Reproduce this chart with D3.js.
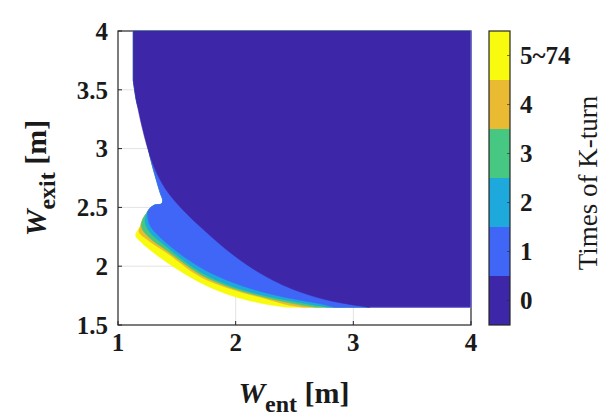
<!DOCTYPE html>
<html><head><meta charset="utf-8">
<script src="https://cdn.jsdelivr.net/npm/d3@7/dist/d3.min.js"></script>
<style>
body{margin:0;background:#fff}
svg text{font-family:"Liberation Serif","Times New Roman",Times,serif;fill:#1a1a1a}
</style></head>
<body><svg id="c" width="611" height="420" font-family="Liberation Serif, Times New Roman, serif"></svg>
<script>
// ---- data ----
const xTicks = [1, 2, 3, 4];
const yTicks = [1.5, 2, 2.5, 3, 3.5, 4];
const yTickLabels = ["1.5", "2", "2.5", "3", "3.5", "4"];
const levels = [0, 1, 2, 3, 4, 5];
const levelLabels = ["0", "1", "2", "3", "4", "5~74"];
const levelColors = ["#3e26a8", "#4066f8", "#1ea9dc", "#47c882", "#e9ba32", "#f9fb0e"];

// shared upper-left boundary of the coloured (K-turn >= 1) region: [W_ent, W_exit]
const sharedEdge = [[1.13,3.58],[1.16,3.39],[1.19,3.30],[1.24,3.08],[1.28,2.90],[1.33,2.72],
  [1.36,2.62],[1.38,2.56],[1.37,2.53],[1.31,2.52],[1.27,2.49],[1.25,2.46]];
// lower boundary of each nested region (level >= k), following the shared edge
const yellowLower = [[1.21,2.40],[1.19,2.34],[1.17,2.31],[1.15,2.26],[1.19,2.21],[1.27,2.14],
  [1.42,2.03],[1.70,1.86],[1.98,1.745],[2.27,1.675],[2.45,1.65]];
const orangeLower = [[1.21,2.40],[1.19,2.34],[1.18,2.29],[1.27,2.21],[1.42,2.11],[1.70,1.91],
  [1.98,1.80],[2.27,1.72],[2.45,1.67],[2.58,1.65]];
const greenLower = [[1.21,2.40],[1.20,2.33],[1.27,2.24],[1.42,2.13],[1.70,1.93],[1.98,1.81],
  [2.27,1.73],[2.50,1.68],[2.68,1.65]];
const cyanLower = [[1.23,2.38],[1.27,2.29],[1.42,2.16],[1.70,1.95],[1.98,1.825],[2.27,1.745],
  [2.55,1.69],[2.79,1.65]];
const blueLower = [[1.25,2.46],[1.27,2.35],[1.42,2.19],[1.70,1.99],[1.98,1.86],[2.27,1.77],
  [2.55,1.71],[2.72,1.68],[2.84,1.65]];
// boundary of the zero-K-turn region
const darkEdge = [[1.13,3.58],[1.16,3.39],[1.21,3.16],[1.25,3.01],[1.30,2.86],[1.36,2.73],[1.43,2.62],
  [1.55,2.48],[1.70,2.335],[1.84,2.21],[1.98,2.095],[2.12,1.995],[2.27,1.905],[2.40,1.84],[2.55,1.78],
  [2.69,1.735],[2.83,1.70],[2.97,1.675],[3.14,1.65]];
const domainTopLeft = [[1.13,4.0]];
const domainCorner = [[4.0,1.65],[4.0,4.0],[1.13,4.0]];

// ---- layout ----
const svg = d3.select("#c");
const x = d3.scaleLinear().domain([1, 4]).range([118, 471]);
const y = d3.scaleLinear().domain([1.5, 4]).range([325, 31]);
const ink = "#262626";

// grid
svg.append("g").selectAll("line").data(xTicks.slice(1, -1)).join("line")
  .attr("x1", d => x(d)).attr("x2", d => x(d)).attr("y1", y(1.5)).attr("y2", y(4))
  .attr("stroke", "#e3e3e3").attr("stroke-width", 1);
svg.append("g").selectAll("line").data(yTicks.slice(1, -1)).join("line")
  .attr("y1", d => y(d)).attr("y2", d => y(d)).attr("x1", x(1)).attr("x2", x(4))
  .attr("stroke", "#e3e3e3").attr("stroke-width", 1);

// box (under the data, as in the reference)
svg.append("rect").attr("x", x(1)).attr("y", y(4)).attr("width", x(4) - x(1)).attr("height", y(1.5) - y(4))
  .attr("fill", "none").attr("stroke", ink).attr("stroke-width", 1.2);

// ticks (inward)
const tl = 4;
svg.append("g").selectAll("line").data(xTicks).join("line")
  .attr("x1", d => x(d)).attr("x2", d => x(d)).attr("y1", y(1.5)).attr("y2", y(1.5) - tl)
  .attr("stroke", ink);
svg.append("g").selectAll("line").data(yTicks).join("line")
  .attr("y1", d => y(d)).attr("y2", d => y(d)).attr("x1", x(1)).attr("x2", x(1) + tl)
  .attr("stroke", ink);

// regions
const straight = d3.line().x(d => x(d[0])).y(d => y(d[1]));
const smooth = d3.line().x(d => x(d[0])).y(d => y(d[1])).curve(d3.curveCatmullRom.alpha(0.5));
function regionPath(curved) {
  return straight(domainTopLeft.concat([curved[0]])) +
    smooth(curved).replace(/^M[^LC]*/, "") +
    straight([curved[curved.length - 1]].concat(domainCorner)).replace(/^M/, "L") + "Z";
}
const nested = [
  {c: levelColors[5], pts: sharedEdge.concat(yellowLower)},
  {c: levelColors[4], pts: sharedEdge.concat(orangeLower)},
  {c: levelColors[3], pts: sharedEdge.concat(greenLower)},
  {c: levelColors[2], pts: sharedEdge.concat(cyanLower)},
  {c: levelColors[1], pts: sharedEdge.concat(blueLower)},
  {c: levelColors[0], pts: darkEdge}
];
svg.append("g").selectAll("path").data(nested).join("path")
  .attr("d", d => regionPath(d.pts)).attr("fill", d => d.c)
  .attr("stroke", d => d.c).attr("stroke-width", 0.5);
// faint light edge along the bottom of the zero region (as rendered in the reference)
svg.append("path").attr("d", straight([[3.14,1.65],[4.0,1.65],[4.0,4.0]]))
  .attr("fill", "none").attr("stroke", "#7d72d2").attr("stroke-width", 1);

// tick labels
const tfs = 25;
svg.append("g").selectAll("text").data(xTicks).join("text")
  .attr("x", d => x(d)).attr("y", 351).attr("text-anchor", "middle")
  .attr("font-size", tfs).attr("font-weight", "bold").text(d => d);
svg.append("g").selectAll("text").data(yTicks).join("text")
  .attr("x", 108).attr("y", d => y(d)).attr("dy", "0.35em").attr("text-anchor", "end")
  .attr("font-size", tfs).attr("font-weight", "bold").text((d, i) => yTickLabels[i]);

// axis labels
const lfs = 30;
const xl = svg.append("text").attr("x", 294).attr("y", 403).attr("text-anchor", "middle")
  .attr("font-size", lfs).attr("font-weight", "bold");
xl.append("tspan").attr("font-style", "italic").text("W");
xl.append("tspan").attr("dy", 9).attr("font-size", 24).text("ent");
xl.append("tspan").attr("dy", -9).text(" [m]");

const yl = svg.append("text").attr("transform", "translate(46,178) rotate(-90)")
  .attr("text-anchor", "middle").attr("font-size", lfs).attr("font-weight", "bold");
yl.append("tspan").attr("font-style", "italic").text("W");
yl.append("tspan").attr("dy", 9).attr("font-size", 24).text("exit");
yl.append("tspan").attr("dy", -9).text(" [m]");

// colorbar
const cb = d3.scaleBand().domain(levels.slice().reverse()).range([31, 325]);
const cbx = 489, cbw = 21;
svg.append("g").selectAll("rect").data(levels).join("rect")
  .attr("x", cbx).attr("y", d => cb(d)).attr("width", cbw).attr("height", cb.bandwidth())
  .attr("fill", d => levelColors[d]);
svg.append("rect").attr("x", cbx).attr("y", 31).attr("width", cbw).attr("height", 294)
  .attr("fill", "none").attr("stroke", ink).attr("stroke-width", 1.2);
svg.append("g").selectAll("line").data(levels).join("line")
  .attr("x1", cbx + cbw).attr("x2", cbx + cbw - 3)
  .attr("y1", d => cb(d) + cb.bandwidth() / 2).attr("y2", d => cb(d) + cb.bandwidth() / 2)
  .attr("stroke", ink).attr("stroke-opacity", 0.6);
svg.append("g").selectAll("text").data(levels).join("text")
  .attr("x", 520).attr("y", d => cb(d) + cb.bandwidth() / 2).attr("dy", "0.35em")
  .attr("font-size", tfs).attr("font-weight", "bold").text(d => levelLabels[d]);
svg.append("text").attr("transform", "translate(597,183) rotate(-90)")
  .attr("text-anchor", "middle").attr("font-size", 27).text("Times of K-turn");
</script></body></html>
